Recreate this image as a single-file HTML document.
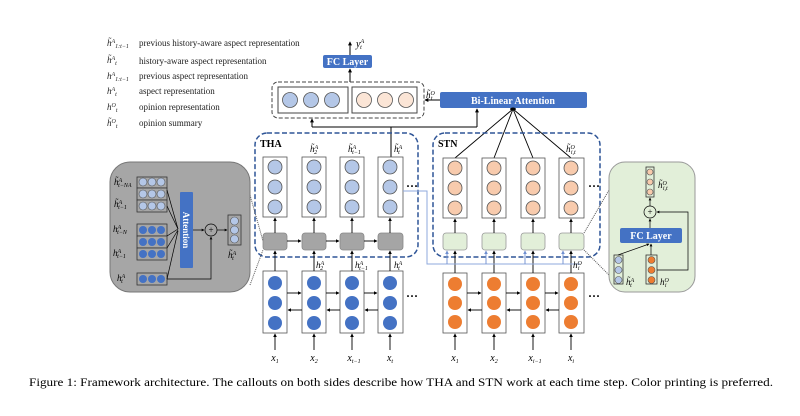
<!DOCTYPE html>
<html><head><meta charset="utf-8"><style>
body{margin:0;background:#fff;}
svg{display:block;font-family:"Liberation Serif",serif;}
</style></head><body>
<svg width="800" height="416" viewBox="0 0 800 416" xmlns="http://www.w3.org/2000/svg">
<defs>
<marker id="a" viewBox="0 0 6 6" refX="5" refY="3" markerWidth="4" markerHeight="4" orient="auto"><path d="M0,0L6,3L0,6z" fill="#000"/></marker>
<marker id="b" viewBox="0 0 6 6" refX="5" refY="3" markerWidth="4" markerHeight="4" orient="auto"><path d="M0,0L6,3L0,6z" fill="#6f8fd0"/></marker>
</defs>
<rect width="800" height="416" fill="#fff"/>
<!-- legend -->
<g font-size="9" fill="#222">
<text x="107" y="46" font-style="italic">h̃<tspan font-size="6" dy="-3">A</tspan><tspan font-size="6" dy="5">1:t−1</tspan></text>
<text x="107" y="63" font-style="italic">h̃<tspan font-size="6" dy="-3">A</tspan><tspan font-size="6" dy="5">t</tspan></text>
<text x="107" y="79" font-style="italic">h<tspan font-size="6" dy="-3">A</tspan><tspan font-size="6" dy="5">1:t−1</tspan></text>
<text x="107" y="94" font-style="italic">h<tspan font-size="6" dy="-3">A</tspan><tspan font-size="6" dy="5">t</tspan></text>
<text x="107" y="110" font-style="italic">h<tspan font-size="6" dy="-3">O</tspan><tspan font-size="6" dy="5">t</tspan></text>
<text x="107" y="126" font-style="italic">h̃<tspan font-size="6" dy="-3">O</tspan><tspan font-size="6" dy="5">t</tspan></text>
<text x="139" y="46">previous history-aware aspect representation</text>
<text x="139" y="64">history-aware aspect representation</text>
<text x="139" y="79">previous aspect representation</text>
<text x="139" y="94">aspect representation</text>
<text x="139" y="110">opinion representation</text>
<text x="139" y="126">opinion summary</text>
</g>
<!-- top FC -->
<line x1="350" y1="55" x2="350" y2="42" stroke="#000" marker-end="url(#a)"/>
<text x="356" y="47" font-size="10" font-style="italic">y<tspan font-size="6" dy="-4">A</tspan><tspan font-size="6" dy="6" dx="-4">t</tspan></text>
<rect x="323" y="55" width="49" height="13" rx="2" fill="#4472c4"/>
<text x="347.5" y="65" font-size="10" font-weight="bold" fill="#fff" text-anchor="middle">FC Layer</text>
<line x1="350" y1="82" x2="350" y2="69" stroke="#000" marker-end="url(#a)"/>
<rect x="272" y="82" width="152" height="36" rx="6" fill="none" stroke="#444" stroke-dasharray="4,2"/>
<rect x="278" y="87" width="70" height="26" fill="#fff" stroke="#444"/>
<rect x="352" y="87" width="65" height="26" fill="#fff" stroke="#444"/>
<g stroke="#555" stroke-width="0.8">
<circle cx="290" cy="100" r="7.5" fill="#b4c7e7"/><circle cx="311" cy="100" r="7.5" fill="#b4c7e7"/><circle cx="332" cy="100" r="7.5" fill="#b4c7e7"/>
<circle cx="364" cy="100" r="7.5" fill="#fbe5d6"/><circle cx="385" cy="100" r="7.5" fill="#fbe5d6"/><circle cx="406" cy="100" r="7.5" fill="#fbe5d6"/>
</g>
<text x="426" y="98" font-size="9" font-style="italic">h̃<tspan font-size="6" dy="-3">O</tspan><tspan font-size="6" dy="5" dx="-4">t</tspan></text>
<rect x="440" y="92" width="147" height="16" rx="2" fill="#4472c4"/>
<text x="513" y="104" font-size="10" font-weight="bold" fill="#fff" text-anchor="middle">Bi-Linear Attention</text>
<line x1="440" y1="100" x2="425" y2="100" stroke="#000" marker-end="url(#a)"/>
<polyline points="391,157 391,127" stroke="#000" fill="none"/>
<line x1="312" y1="127" x2="477" y2="127" stroke="#000"/>
<line x1="312" y1="127" x2="312" y2="119" stroke="#000" marker-end="url(#a)"/>
<line x1="477" y1="127" x2="477" y2="109" stroke="#000" marker-end="url(#a)"/>
<ellipse cx="513" cy="109" rx="3" ry="1.5" fill="#000"/>
<g stroke="#000" stroke-width="0.9">
<line x1="513" y1="109" x2="455" y2="158"/><line x1="513" y1="109" x2="494" y2="158"/><line x1="513" y1="109" x2="533" y2="158"/><line x1="513" y1="109" x2="571" y2="158"/>
</g>
<!-- THA box -->
<rect x="255" y="133" width="163" height="124" rx="12" fill="none" stroke="#2f5597" stroke-width="1.5" stroke-dasharray="5,2.5"/>
<text x="260" y="147" font-size="10" font-weight="bold">THA</text>
<g font-size="9" font-style="italic">
<text x="310" y="152">h̃<tspan font-size="6" dy="-3">A</tspan><tspan font-size="6" dy="5" dx="-4">2</tspan></text>
<text x="348" y="152">h̃<tspan font-size="6" dy="-3">A</tspan><tspan font-size="6" dy="5" dx="-4">t−1</tspan></text>
<text x="394" y="152">h̃<tspan font-size="6" dy="-3">A</tspan><tspan font-size="6" dy="5" dx="-4">t</tspan></text>
</g>
<!-- STN box -->
<rect x="433" y="133" width="167" height="124" rx="12" fill="none" stroke="#2f5597" stroke-width="1.5" stroke-dasharray="5,2.5"/>
<text x="438" y="147" font-size="10" font-weight="bold">STN</text>
<text x="566" y="152" font-size="9" font-style="italic">h̃<tspan font-size="6" dy="-3">O</tspan><tspan font-size="6" dy="5" dx="-4">i,t</tspan></text>
<!-- columns -->
<g stroke="#555" stroke-width="0.8">
<!-- THA top -->
<rect x="263" y="157" width="24" height="60" fill="#fff"/><rect x="302" y="157" width="24" height="60" fill="#fff"/><rect x="340" y="157" width="24" height="60" fill="#fff"/><rect x="378" y="157" width="25" height="60" fill="#fff"/>
<g fill="#b4c7e7">
<circle cx="275" cy="167" r="7"/><circle cx="275" cy="187" r="7"/><circle cx="275" cy="207" r="7"/>
<circle cx="314" cy="167" r="7"/><circle cx="314" cy="187" r="7"/><circle cx="314" cy="207" r="7"/>
<circle cx="352" cy="167" r="7"/><circle cx="352" cy="187" r="7"/><circle cx="352" cy="207" r="7"/>
<circle cx="390" cy="167" r="7"/><circle cx="390" cy="187" r="7"/><circle cx="390" cy="207" r="7"/>
</g>
<!-- STN top -->
<rect x="443" y="158" width="24" height="60" fill="#fff"/><rect x="482" y="158" width="24" height="60" fill="#fff"/><rect x="521" y="158" width="24" height="60" fill="#fff"/><rect x="559" y="158" width="25" height="60" fill="#fff"/>
<g fill="#f8cbad">
<circle cx="455" cy="168" r="7"/><circle cx="455" cy="188" r="7"/><circle cx="455" cy="208" r="7"/>
<circle cx="494" cy="168" r="7"/><circle cx="494" cy="188" r="7"/><circle cx="494" cy="208" r="7"/>
<circle cx="533" cy="168" r="7"/><circle cx="533" cy="188" r="7"/><circle cx="533" cy="208" r="7"/>
<circle cx="571" cy="168" r="7"/><circle cx="571" cy="188" r="7"/><circle cx="571" cy="208" r="7"/>
</g>
<!-- gray cells -->
<g fill="#a5a5a5" stroke="#888">
<rect x="263" y="233" width="24" height="17" rx="3"/><rect x="302" y="233" width="24" height="17" rx="3"/><rect x="340" y="233" width="24" height="17" rx="3"/><rect x="378" y="233" width="25" height="17" rx="3"/>
</g>
<g fill="#e2efd9" stroke="#999">
<rect x="443" y="233" width="24" height="17" rx="3"/><rect x="482" y="233" width="24" height="17" rx="3"/><rect x="521" y="233" width="24" height="17" rx="3"/><rect x="559" y="233" width="25" height="17" rx="3"/>
</g>
<!-- bottom -->
<rect x="263" y="271" width="24" height="62" fill="#fff"/><rect x="302" y="271" width="24" height="62" fill="#fff"/><rect x="340" y="271" width="24" height="62" fill="#fff"/><rect x="378" y="271" width="25" height="62" fill="#fff"/>
<rect x="443" y="273" width="24" height="60" fill="#fff"/><rect x="482" y="273" width="24" height="60" fill="#fff"/><rect x="521" y="273" width="24" height="60" fill="#fff"/><rect x="559" y="273" width="25" height="60" fill="#fff"/>
</g>
<g fill="#4472c4">
<circle cx="275" cy="283" r="7"/><circle cx="275" cy="303" r="7"/><circle cx="275" cy="323" r="7"/>
<circle cx="314" cy="283" r="7"/><circle cx="314" cy="303" r="7"/><circle cx="314" cy="323" r="7"/>
<circle cx="352" cy="283" r="7"/><circle cx="352" cy="303" r="7"/><circle cx="352" cy="323" r="7"/>
<circle cx="390" cy="283" r="7"/><circle cx="390" cy="303" r="7"/><circle cx="390" cy="323" r="7"/>
</g>
<g fill="#ed7d31">
<circle cx="455" cy="284" r="7"/><circle cx="455" cy="303" r="7"/><circle cx="455" cy="322" r="7"/>
<circle cx="494" cy="284" r="7"/><circle cx="494" cy="303" r="7"/><circle cx="494" cy="322" r="7"/>
<circle cx="533" cy="284" r="7"/><circle cx="533" cy="303" r="7"/><circle cx="533" cy="322" r="7"/>
<circle cx="571" cy="284" r="7"/><circle cx="571" cy="303" r="7"/><circle cx="571" cy="322" r="7"/>
</g>
<!-- vertical arrows -->
<g stroke="#000" stroke-width="0.9" marker-end="url(#a)">
<line x1="275" y1="233" x2="275" y2="218"/><line x1="314" y1="233" x2="314" y2="218"/><line x1="352" y1="233" x2="352" y2="218"/><line x1="390" y1="233" x2="390" y2="218"/>
<line x1="455" y1="233" x2="455" y2="219"/><line x1="494" y1="233" x2="494" y2="219"/><line x1="533" y1="233" x2="533" y2="219"/><line x1="571" y1="233" x2="571" y2="219"/>
<line x1="275" y1="271" x2="275" y2="251"/><line x1="314" y1="271" x2="314" y2="251"/><line x1="352" y1="271" x2="352" y2="251"/><line x1="390" y1="271" x2="390" y2="251"/>
<line x1="455" y1="273" x2="455" y2="251"/><line x1="494" y1="273" x2="494" y2="251"/><line x1="533" y1="273" x2="533" y2="251"/><line x1="571" y1="273" x2="571" y2="251"/>
<line x1="287" y1="241" x2="301" y2="241"/><line x1="326" y1="241" x2="339" y2="241"/><line x1="364" y1="241" x2="377" y2="241"/>
<line x1="287" y1="293" x2="301" y2="293"/><line x1="326" y1="293" x2="339" y2="293"/><line x1="364" y1="293" x2="377" y2="293"/>
<line x1="302" y1="310" x2="288" y2="310"/><line x1="340" y1="310" x2="327" y2="310"/><line x1="378" y1="310" x2="365" y2="310"/>
<line x1="467" y1="293" x2="481" y2="293"/><line x1="506" y1="293" x2="520" y2="293"/><line x1="545" y1="293" x2="558" y2="293"/>
<line x1="482" y1="310" x2="468" y2="310"/><line x1="521" y1="310" x2="507" y2="310"/><line x1="559" y1="310" x2="546" y2="310"/>
<line x1="275" y1="350" x2="275" y2="334"/><line x1="314" y1="350" x2="314" y2="334"/><line x1="352" y1="350" x2="352" y2="334"/><line x1="390" y1="350" x2="390" y2="334"/>
<line x1="455" y1="350" x2="455" y2="334"/><line x1="494" y1="350" x2="494" y2="334"/><line x1="533" y1="350" x2="533" y2="334"/><line x1="571" y1="350" x2="571" y2="334"/>
</g>
<!-- blue connecting line -->
<polyline points="403,191 427,191 427,264 580,264" stroke="#8faadc" fill="none"/>
<g stroke="#6f8fd0" stroke-width="0.9" marker-end="url(#b)">
<line x1="447" y1="264" x2="447" y2="251"/><line x1="486" y1="264" x2="486" y2="251"/><line x1="525" y1="264" x2="525" y2="251"/><line x1="563" y1="264" x2="563" y2="251"/>
</g>
<!-- dots -->
<g font-size="12" font-weight="bold"><text x="406" y="190">···</text><text x="406" y="300">···</text><text x="588" y="190">···</text><text x="588" y="300">···</text></g>
<!-- h labels -->
<g font-size="9" font-style="italic">
<text x="316" y="268">h<tspan font-size="6" dy="-3">A</tspan><tspan font-size="6" dy="5" dx="-4">2</tspan></text>
<text x="355" y="268">h<tspan font-size="6" dy="-3">A</tspan><tspan font-size="6" dy="5" dx="-4">t−1</tspan></text>
<text x="394" y="268">h<tspan font-size="6" dy="-3">A</tspan><tspan font-size="6" dy="5" dx="-4">t</tspan></text>
<text x="573" y="268">h<tspan font-size="6" dy="-3">O</tspan><tspan font-size="6" dy="5" dx="-4">i</tspan></text>
</g>
<g font-size="10" font-style="italic" text-anchor="middle">
<text x="275" y="361">x<tspan font-size="6" dy="2">1</tspan></text><text x="314" y="361">x<tspan font-size="6" dy="2">2</tspan></text><text x="354" y="361">x<tspan font-size="6" dy="2">t−1</tspan></text><text x="390" y="361">x<tspan font-size="6" dy="2">t</tspan></text>
<text x="455" y="361">x<tspan font-size="6" dy="2">1</tspan></text><text x="494" y="361">x<tspan font-size="6" dy="2">2</tspan></text><text x="535" y="361">x<tspan font-size="6" dy="2">i−1</tspan></text><text x="571" y="361">x<tspan font-size="6" dy="2">i</tspan></text>
</g>
<!-- left callout -->
<line x1="250" y1="195" x2="263" y2="241" stroke="#555" stroke-dasharray="1,1"/>
<line x1="250" y1="285" x2="263" y2="250" stroke="#555" stroke-dasharray="1,1"/>
<rect x="110" y="162" width="140" height="130" rx="20" fill="#a6a6a6" stroke="#777"/>
<g stroke="#333" stroke-width="0.8">
<rect x="137" y="177" width="30" height="11" fill="#a6a6a6"/><rect x="137" y="188" width="30" height="12" fill="#a6a6a6"/><rect x="137" y="200" width="30" height="12" fill="#a6a6a6"/>
<rect x="137" y="224" width="30" height="12" fill="#a6a6a6"/><rect x="137" y="236" width="30" height="12" fill="#a6a6a6"/><rect x="137" y="248" width="30" height="12" fill="#a6a6a6"/>
<rect x="137" y="273" width="30" height="12" fill="#a6a6a6"/>
<rect x="228" y="215" width="13" height="30" fill="#a6a6a6"/>
</g>
<g stroke="#555" stroke-width="0.6" fill="#b4c7e7">
<circle cx="143" cy="182" r="4"/><circle cx="152" cy="182" r="4"/><circle cx="161" cy="182" r="4"/>
<circle cx="143" cy="194" r="4"/><circle cx="152" cy="194" r="4"/><circle cx="161" cy="194" r="4"/>
<circle cx="143" cy="206" r="4"/><circle cx="152" cy="206" r="4"/><circle cx="161" cy="206" r="4"/>
<circle cx="234.5" cy="221" r="4"/><circle cx="234.5" cy="230" r="4"/><circle cx="234.5" cy="239" r="4"/>
</g>
<g fill="#4472c4">
<circle cx="143" cy="230" r="4"/><circle cx="152" cy="230" r="4"/><circle cx="161" cy="230" r="4"/>
<circle cx="143" cy="242" r="4"/><circle cx="152" cy="242" r="4"/><circle cx="161" cy="242" r="4"/>
<circle cx="143" cy="254" r="4"/><circle cx="152" cy="254" r="4"/><circle cx="161" cy="254" r="4"/>
<circle cx="143" cy="279" r="4"/><circle cx="152" cy="279" r="4"/><circle cx="161" cy="279" r="4"/>
</g>
<rect x="180" y="192" width="13" height="76" rx="1" fill="#4472c4"/>
<text transform="translate(183,230) rotate(90)" font-size="9" font-weight="bold" fill="#fff" text-anchor="middle">Attention</text>
<g stroke="#000" stroke-width="0.7" fill="none">
<line x1="167" y1="190" x2="178" y2="229"/><line x1="167" y1="206" x2="178" y2="229"/>
<line x1="167" y1="236" x2="178" y2="229"/><line x1="167" y1="248" x2="178" y2="230"/>
<line x1="167" y1="279" x2="178" y2="231"/>
<polyline points="167,279 211,279 211,237" marker-end="url(#a)"/>
<line x1="193" y1="230" x2="204" y2="230" marker-end="url(#a)"/>
<line x1="217" y1="230" x2="227" y2="230" marker-end="url(#a)"/>
<circle cx="211" cy="230" r="6" fill="#a6a6a6"/>
</g>
<text x="211" y="233" font-size="9" text-anchor="middle">+</text>
<g font-size="9" font-style="italic">
<text x="114" y="185">h̃<tspan font-size="6" dy="-3">A</tspan><tspan font-size="6" dy="5" dx="-4">t−NA</tspan></text>
<text x="114" y="207">h̃<tspan font-size="6" dy="-3">A</tspan><tspan font-size="6" dy="5" dx="-4">t−1</tspan></text>
<text x="113" y="232">h<tspan font-size="6" dy="-3">A</tspan><tspan font-size="6" dy="5" dx="-4">t−N</tspan></text>
<text x="113" y="256">h<tspan font-size="6" dy="-3">A</tspan><tspan font-size="6" dy="5" dx="-4">t−1</tspan></text>
<text x="117" y="281">h<tspan font-size="6" dy="-3">A</tspan><tspan font-size="6" dy="5" dx="-4">t</tspan></text>
<text x="228" y="258">h̃<tspan font-size="6" dy="-3">A</tspan><tspan font-size="6" dy="5" dx="-4">t</tspan></text>
</g>
<!-- right callout -->
<line x1="584" y1="233" x2="609" y2="190" stroke="#555" stroke-dasharray="1,1"/>
<line x1="584" y1="250" x2="609" y2="275" stroke="#555" stroke-dasharray="1,1"/>
<rect x="609" y="162" width="86" height="130" rx="16" fill="#e2efd9" stroke="#999"/>
<g stroke="#333" stroke-width="0.8" fill="#e2efd9">
<rect x="646" y="167" width="8" height="30"/><rect x="614" y="255" width="9" height="29"/><rect x="646" y="255" width="11" height="29"/>
</g>
<g stroke="#555" stroke-width="0.6">
<circle cx="650" cy="172" r="3" fill="#f8cbad"/><circle cx="650" cy="182" r="3" fill="#f8cbad"/><circle cx="650" cy="192" r="3" fill="#f8cbad"/>
<circle cx="618.5" cy="260" r="3.5" fill="#b4c7e7"/><circle cx="618.5" cy="270" r="3.5" fill="#b4c7e7"/><circle cx="618.5" cy="280" r="3.5" fill="#b4c7e7"/>
<circle cx="651.5" cy="260" r="3.5" fill="#ed7d31"/><circle cx="651.5" cy="270" r="3.5" fill="#ed7d31"/><circle cx="651.5" cy="280" r="3.5" fill="#ed7d31"/>
</g>
<rect x="620" y="228" width="62" height="15" rx="2" fill="#4472c4"/>
<text x="651" y="239" font-size="10" font-weight="bold" fill="#fff" text-anchor="middle">FC Layer</text>
<g stroke="#000" stroke-width="0.7" fill="none">
<line x1="650" y1="228" x2="650" y2="219" marker-end="url(#a)"/>
<line x1="650" y1="206" x2="650" y2="198" marker-end="url(#a)"/>
<line x1="618" y1="255" x2="649" y2="244" marker-end="url(#a)"/>
<line x1="651" y1="255" x2="651" y2="244" marker-end="url(#a)"/>
<polyline points="657,270 688,270 688,212 657,212" marker-end="url(#a)"/>
<circle cx="650" cy="212" r="6" fill="#e2efd9"/>
</g>
<text x="650" y="215" font-size="9" text-anchor="middle">+</text>
<g font-size="9" font-style="italic">
<text x="658" y="188">h̃<tspan font-size="6" dy="-3">O</tspan><tspan font-size="6" dy="5" dx="-4">i,t</tspan></text>
<text x="626" y="285">h̃<tspan font-size="6" dy="-3">A</tspan><tspan font-size="6" dy="5" dx="-4">t</tspan></text>
<text x="660" y="285">h<tspan font-size="6" dy="-3">O</tspan><tspan font-size="6" dy="5" dx="-4">i</tspan></text>
</g>
<!-- caption -->
<text x="401" y="386" font-size="12" text-anchor="middle" textLength="744" lengthAdjust="spacingAndGlyphs">Figure 1: Framework architecture. The callouts on both sides describe how THA and STN work at each time step. Color printing is preferred.</text>
</svg>
</body></html>
